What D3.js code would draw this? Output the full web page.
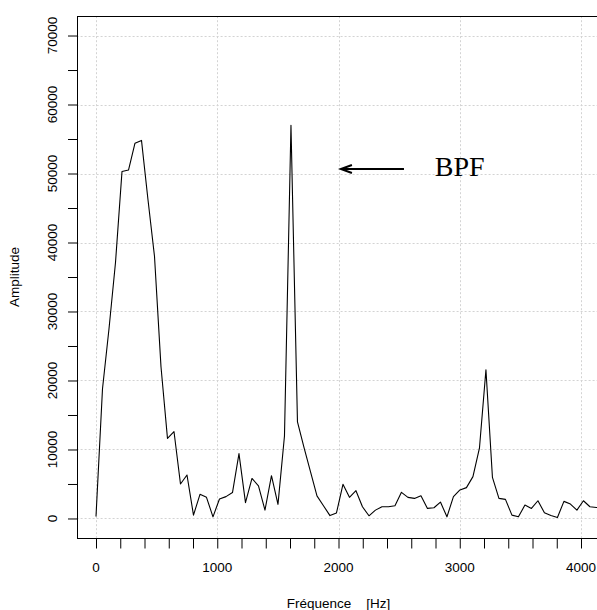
<!DOCTYPE html>
<html>
<head>
<meta charset="utf-8">
<script src="https://cdn.jsdelivr.net/npm/d3@7"></script>
<style>
  html, body { margin: 0; padding: 0; background: #fff; }
  svg { display: block; }
</style>
</head>
<body>
<svg id="chart" width="597" height="610"></svg>
<script>
// ---- data ----
const freqs = [0, 53.6, 107.2, 160.8, 214.4, 268, 321.6, 375.2, 428.8, 482.4,
  536, 589.6, 643.2, 696.8, 750.4, 804, 857.6, 911.2, 964.8, 1018.4,
  1072, 1125.6, 1179.2, 1232.8, 1286.4, 1340, 1393.6, 1447.2, 1500.8, 1554.4,
  1608, 1661.6, 1715.2, 1768.8, 1822.4, 1876, 1929.6, 1983.2, 2036.8, 2090.4,
  2144, 2197.6, 2251.2, 2304.8, 2358.4, 2412, 2465.6, 2519.2, 2572.8, 2626.4,
  2680, 2733.6, 2787.2, 2840.8, 2894.4, 2948, 3001.6, 3055.2, 3108.8, 3162.4,
  3216, 3269.6, 3323.2, 3376.8, 3430.4, 3484, 3537.6, 3591.2, 3644.8, 3698.4,
  3752, 3805.6, 3859.2, 3912.8, 3966.4, 4020, 4073.6, 4127.2, 4180.8];
const amplitude = [300, 18800, 27500, 37100, 50300, 50500, 54400, 54800, 46200, 38000,
  22000, 11600, 12600, 5000, 6300, 490, 3500, 3070, 240, 2830,
  3170, 3760, 9410, 2290, 5800, 4730, 1220, 6200, 2050, 11950,
  57000, 14000, 10300, 6800, 3270, 1850, 420, 800, 4950, 3060,
  4030, 1700, 390, 1210, 1700, 1700, 1840, 3790, 3060, 2910,
  3300, 1460, 1550, 2380, 240, 3160, 4130, 4470, 6070, 10190,
  21560, 5970, 2910, 2770, 485, 240, 1940, 1460, 2570, 830,
  440, 150, 2480, 2090, 1210, 2570, 1700, 1600, 1550];
const xTicks = [0, 200, 400, 600, 800, 1000, 1200, 1400, 1600, 1800, 2000, 2200, 2400, 2600, 2800, 3000, 3200, 3400, 3600, 3800, 4000, 4200];
const xLabels = [0, 1000, 2000, 3000, 4000];
const yTicks = [0, 5000, 10000, 15000, 20000, 25000, 30000, 35000, 40000, 45000, 50000, 55000, 60000, 65000, 70000];
const yLabels = [0, 10000, 20000, 30000, 40000, 50000, 60000, 70000];
const xTitle = "Fréquence    [Hz]";
const yTitle = "Amplitude";
const annotText = "BPF";
const annotTextPos = [3000, 51000];
const arrowFrom = [2540, 50650];
const arrowTo = [2020, 50650];

// ---- layout ----
const svg = d3.select("#chart");
const pL = 76.6, pR = 600.4, pT = 16.2, pB = 537.8;
const x = d3.scaleLinear().domain([-160, 4160]).range([pL, pR]);
const y = d3.scaleLinear().domain([-2800, 72800]).range([pB, pT]);
const font = "'Liberation Sans', Arial, Helvetica, sans-serif";

svg.append("defs").append("clipPath").attr("id", "clip")
  .append("rect").attr("x", pL).attr("y", pT)
  .attr("width", pR - pL).attr("height", pB - pT);

// grid
const grid = svg.append("g").attr("stroke", "#d3d3d3").attr("stroke-width", 1)
  .attr("stroke-dasharray", "2,2").attr("fill", "none");
grid.selectAll("line.v").data(xLabels).join("line").attr("class", "v")
  .attr("x1", d => Math.round(x(d)) + 0.5).attr("x2", d => Math.round(x(d)) + 0.5)
  .attr("y1", pT).attr("y2", pB);
grid.selectAll("line.h").data(yLabels).join("line").attr("class", "h")
  .attr("y1", d => Math.round(y(d)) + 0.5).attr("y2", d => Math.round(y(d)) + 0.5)
  .attr("x1", pL).attr("x2", pR);

// data line
const line = d3.line().x((d, i) => x(freqs[i])).y(d => y(d));
svg.append("path").datum(amplitude)
  .attr("clip-path", "url(#clip)")
  .attr("fill", "none").attr("stroke", "#000").attr("stroke-width", 1.1)
  .attr("stroke-linejoin", "round")
  .attr("d", line);

// box
svg.append("rect").attr("x", Math.round(pL) + 0.5).attr("y", Math.round(pT) + 0.5)
  .attr("width", pR - pL).attr("height", Math.round(pB) - Math.round(pT))
  .attr("fill", "none").attr("stroke", "#000").attr("stroke-width", 1);

// x axis
const xAxis = d3.axisBottom(x).tickValues(xTicks).tickSize(10).tickFormat("");
const gx = svg.append("g").attr("transform", `translate(0,${Math.round(pB) + 0.5})`).call(xAxis);
gx.select(".domain").remove();
gx.selectAll(".tick line").attr("stroke", "#000");
svg.append("g").selectAll("text").data(xLabels).join("text")
  .attr("x", d => x(d)).attr("y", 572)
  .attr("text-anchor", "middle")
  .attr("font-family", font).attr("font-size", 13.5).attr("fill", "#000")
  .text(d => d);

// y axis
const yAxis = d3.axisLeft(y).tickValues(yTicks).tickSize(9.5).tickFormat("");
const gy = svg.append("g").attr("transform", `translate(${Math.round(pL) + 0.5},0)`).call(yAxis);
gy.select(".domain").remove();
gy.selectAll(".tick line").attr("stroke", "#000");
svg.append("g").selectAll("text").data(yLabels).join("text")
  .attr("transform", d => `translate(57,${y(d)}) rotate(-90)`)
  .attr("text-anchor", "middle")
  .attr("font-family", font).attr("font-size", 13.5).attr("fill", "#000")
  .text(d => d);

// titles
svg.append("text").attr("x", (pL + pR) / 2).attr("y", 608)
  .attr("text-anchor", "middle").style("white-space", "pre")
  .attr("font-family", font).attr("font-size", 13.5).attr("fill", "#000")
  .text(xTitle);
svg.append("text").attr("transform", `translate(19,${(pT + pB) / 2}) rotate(-90)`)
  .attr("text-anchor", "middle")
  .attr("font-family", font).attr("font-size", 13.5).attr("fill", "#000")
  .text(yTitle);

// annotation
const ax1 = x(arrowFrom[0]), ay1 = y(arrowFrom[1]);
const ax2 = x(arrowTo[0]), ay2 = y(arrowTo[1]);
const ann = svg.append("g").attr("stroke", "#000").attr("stroke-width", 2).attr("fill", "none");
ann.append("line").attr("x1", ax1).attr("y1", ay1).attr("x2", ax2 + 1).attr("y2", ay2);
ann.append("path").attr("stroke-linejoin", "miter")
  .attr("d", `M${ax2 + 11},${ay2 - 4}L${ax2},${ay2}L${ax2 + 11},${ay2 + 4}`);
svg.append("text").attr("x", x(annotTextPos[0])).attr("y", y(annotTextPos[1]) + 9.5)
  .attr("text-anchor", "middle")
  .attr("font-family", "'Liberation Serif', 'Times New Roman', serif")
  .attr("font-size", 28).attr("fill", "#000")
  .text(annotText);
</script>
</body>
</html>
